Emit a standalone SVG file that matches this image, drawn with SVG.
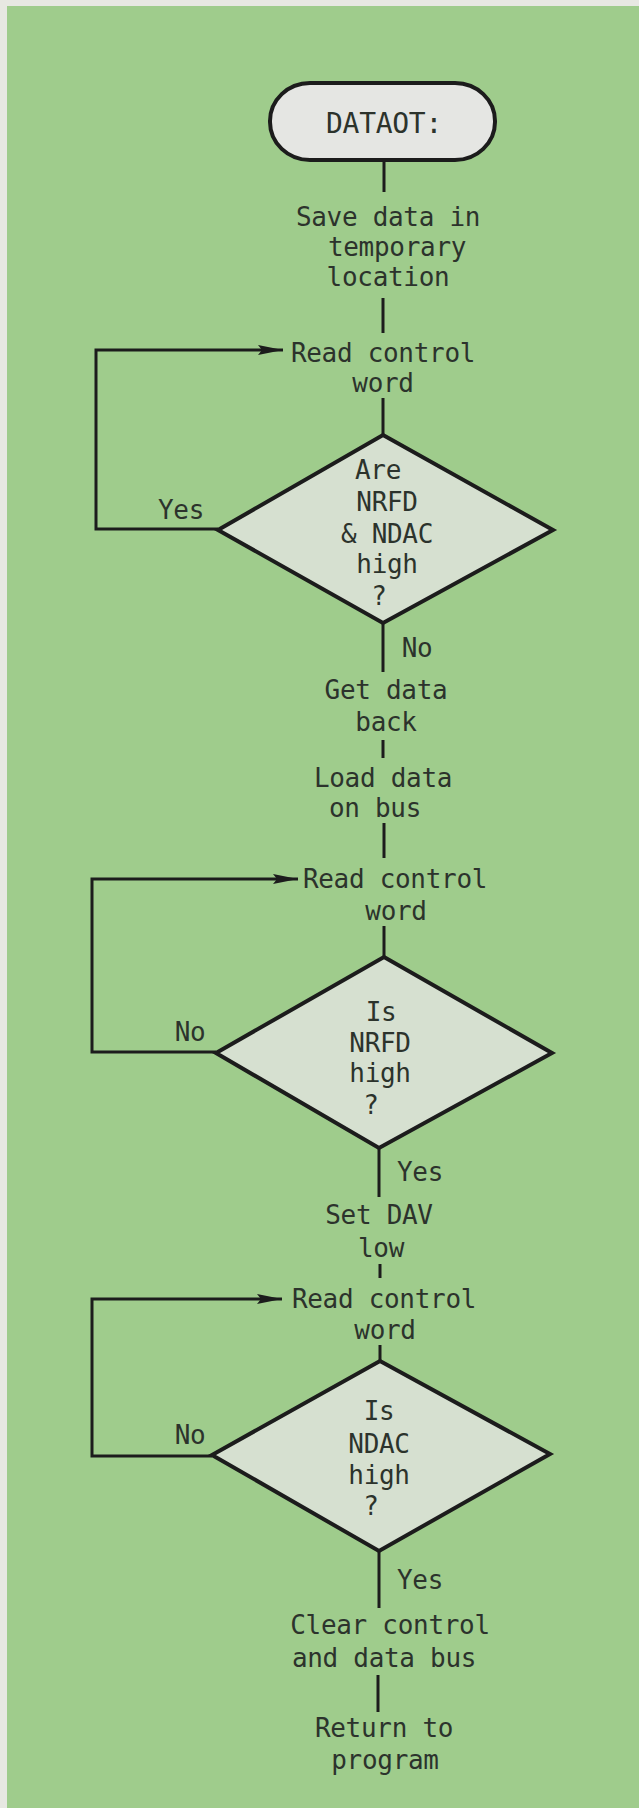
<svg xmlns="http://www.w3.org/2000/svg" width="639" height="1808" viewBox="0 0 639 1808">
<defs>
<style>
.t{font-family:"DejaVu Sans Mono","Liberation Mono",monospace;font-size:26px;fill:#2c332c;text-anchor:middle;letter-spacing:-0.3px}
.c{stroke:#1c1c1c;stroke-width:3;fill:none}
.d{fill:#d6e0d0;stroke:#1c1c1c;stroke-width:4;stroke-linejoin:miter}
</style>
<marker id="ah" markerUnits="userSpaceOnUse" markerWidth="26" markerHeight="12" refX="25" refY="6" orient="auto">
<path d="M0,1 L25,6 L0,11 L4,6 Z" fill="#1c1c1c"/>
</marker>
</defs>
<rect x="0" y="0" width="639" height="1808" fill="#e7e8e2"/>
<rect x="7" y="6" width="632" height="1802" fill="#9fcc8c"/>
<g id="connectors">
<line class="c" x1="384" y1="160" x2="384" y2="192"/>
<line class="c" x1="383" y1="298" x2="383" y2="333"/>
<line class="c" x1="383" y1="398" x2="383" y2="435"/>
<line class="c" x1="383" y1="623" x2="383" y2="672"/>
<line class="c" x1="383" y1="740" x2="383" y2="758"/>
<line class="c" x1="384" y1="823" x2="384" y2="858"/>
<line class="c" x1="384" y1="926" x2="384" y2="958"/>
<line class="c" x1="379" y1="1148" x2="379" y2="1197"/>
<line class="c" x1="380" y1="1264" x2="380" y2="1278"/>
<line class="c" x1="380" y1="1345" x2="380" y2="1361"/>
<line class="c" x1="379" y1="1551" x2="379" y2="1608"/>
<line class="c" x1="378" y1="1675" x2="378" y2="1712"/>
<polyline class="c" points="218,529 96,529 96,350 283,350" marker-end="url(#ah)"/>
<polyline class="c" points="216,1052 92,1052 92,879 298,879" marker-end="url(#ah)"/>
<polyline class="c" points="212,1456 92,1456 92,1299 282,1299" marker-end="url(#ah)"/>
<text class="t" x="181" y="519">Yes</text>
<text class="t" x="417" y="657">No</text>
<text class="t" x="190" y="1041">No</text>
<text class="t" x="420" y="1181">Yes</text>
<text class="t" x="190" y="1444">No</text>
<text class="t" x="420" y="1589">Yes</text>
</g>
<g id="start">
<rect x="270" y="83" width="225" height="77" rx="40" ry="38" fill="#e5e6e3" stroke="#1c1c1c" stroke-width="4"/>
<text class="t" x="384" y="133" style="font-size:28px">DATAOT:</text>
</g>
<g id="save">
<text class="t" x="388" y="226">Save data in</text>
<text class="t" x="397" y="256">temporary</text>
<text class="t" x="388" y="286">location</text>
</g>
<g id="read1">
<text class="t" x="383" y="362">Read control</text>
<text class="t" x="383" y="392">word</text>
</g>
<g id="dec1">
<polygon class="d" points="383,435 553,530 383,623 218,530"/>
<text class="t" x="378" y="479">Are</text>
<text class="t" x="387" y="511">NRFD</text>
<text class="t" x="387" y="543">&amp; NDAC</text>
<text class="t" x="387" y="573">high</text>
<text class="t" x="379" y="605">?</text>
</g>
<g id="getback">
<text class="t" x="386" y="699">Get data</text>
<text class="t" x="386" y="731">back</text>
</g>
<g id="load">
<text class="t" x="383" y="787">Load data</text>
<text class="t" x="375" y="817">on bus</text>
</g>
<g id="read2">
<text class="t" x="395" y="888">Read control</text>
<text class="t" x="396" y="920">word</text>
</g>
<g id="dec2">
<polygon class="d" points="384,957 552,1053 379,1148 216,1053"/>
<text class="t" x="381" y="1021">Is</text>
<text class="t" x="380" y="1052">NRFD</text>
<text class="t" x="380" y="1082">high</text>
<text class="t" x="371" y="1114">?</text>
</g>
<g id="setdav">
<text class="t" x="379" y="1224">Set DAV</text>
<text class="t" x="381" y="1257">low</text>
</g>
<g id="read3">
<text class="t" x="384" y="1308">Read control</text>
<text class="t" x="385" y="1339">word</text>
</g>
<g id="dec3">
<polygon class="d" points="380,1361 550,1454 379,1551 212,1455"/>
<text class="t" x="379" y="1420">Is</text>
<text class="t" x="379" y="1453">NDAC</text>
<text class="t" x="379" y="1484">high</text>
<text class="t" x="371" y="1515">?</text>
</g>
<g id="clear">
<text class="t" x="390" y="1634">Clear control</text>
<text class="t" x="384" y="1667">and data bus</text>
</g>
<g id="return">
<text class="t" x="384" y="1737">Return to</text>
<text class="t" x="385" y="1769">program</text>
</g>
</svg>
